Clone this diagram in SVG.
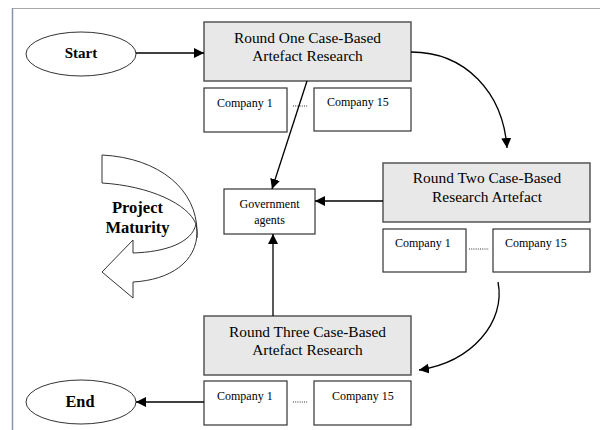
<svg xmlns="http://www.w3.org/2000/svg" width="600" height="430" viewBox="0 0 600 430">
<defs>
<marker id="ah" viewBox="0 0 10 10" refX="10" refY="5" markerWidth="10" markerHeight="10" markerUnits="userSpaceOnUse" orient="auto">
<path d="M0,0 L10,5 L0,10 Z" fill="#000"/>
</marker>
</defs>
<style>
text{font-family:'Liberation Serif','Times New Roman',serif;fill:#000}
.h{font-size:15.4px;text-anchor:middle}
.cn{font-size:12px}
.round{fill:#e8e8e8;stroke:#555;stroke-width:1.5}
.co{fill:#fff;stroke:#333;stroke-width:1.2}
.ell{fill:#fff;stroke:#333;stroke-width:1}
.c{fill:none;stroke:#000;stroke-width:1.3}
.dots{stroke:#333;stroke-width:1;stroke-dasharray:1,1.2}
</style>
<rect width="600" height="430" fill="#fff"/>
<line x1="12" y1="8.5" x2="600" y2="8.5" stroke="#aaa" stroke-width="1.2"/>
<line x1="12.5" y1="8" x2="12.5" y2="430" stroke="#8796a8" stroke-width="1.5"/>

<g id="start">
<ellipse class="ell" cx="81" cy="54" rx="55" ry="22"/>
<text x="81" y="58" font-size="15" font-weight="bold" text-anchor="middle">Start</text>
</g>
<g id="end">
<ellipse class="ell" cx="81" cy="402" rx="55" ry="22"/>
<text x="80" y="407" font-size="16.3" font-weight="bold" text-anchor="middle">End</text>
</g>

<g id="round1">
<rect class="round" x="204" y="22" width="207" height="59"/>
<text class="h" x="307.5" y="43">Round One Case-Based</text>
<text class="h" x="307.5" y="61">Artefact Research</text>
</g>
<g id="r1c1">
<rect class="co" x="204" y="88" width="83" height="44"/>
<text class="cn" x="217" y="107">Company 1</text>
</g>
<line class="dots" x1="293" y1="106" x2="308" y2="106"/>
<g id="r1c15">
<rect class="co" x="314" y="88" width="97" height="43"/>
<text class="cn" x="327" y="106">Company 15</text>
</g>

<g id="round2">
<rect class="round" x="383" y="163" width="207" height="59"/>
<text class="h" x="487" y="183">Round Two Case-Based</text>
<text class="h" x="487" y="202">Research Artefact</text>
</g>
<g id="r2c1">
<rect class="co" x="383" y="229" width="83" height="43"/>
<text class="cn" x="395" y="247">Company 1</text>
</g>
<line class="dots" x1="469" y1="249" x2="489" y2="249"/>
<g id="r2c15">
<rect class="co" x="493" y="229" width="97" height="43"/>
<text class="cn" x="505" y="247">Company 15</text>
</g>

<g id="gov">
<rect class="co" x="224" y="189" width="91" height="45"/>
<text x="269.5" y="208" font-size="12" text-anchor="middle">Government</text>
<text x="269.5" y="224" font-size="12" text-anchor="middle">agents</text>
</g>

<g id="round3">
<rect class="round" x="204" y="316" width="207" height="59"/>
<text class="h" x="307.5" y="337">Round Three Case-Based</text>
<text class="h" x="307.5" y="355">Artefact Research</text>
</g>
<g id="r3c1">
<rect class="co" x="204" y="381" width="83" height="44"/>
<text class="cn" x="217" y="400">Company 1</text>
</g>
<line class="dots" x1="293" y1="402" x2="308" y2="402"/>
<g id="r3c15">
<rect class="co" x="314" y="381" width="97" height="44"/>
<text class="cn" x="332" y="400">Company 15</text>
</g>

<g id="maturity">
<path d="M102,155 C160,158 197,190 197,232 C197,262 170,280 133,282 L133,298 L102,272 L133,240 L133,253 C165,252 192,243 196,224 C188,204 150,186 102,183 Z" fill="#fff" stroke="#333" stroke-width="1"/>
<path d="M196,224 C197,229 197.5,234 197,238" fill="none" stroke="#333" stroke-width="1"/>
<text x="137.5" y="213" font-size="16.5" font-weight="bold" text-anchor="middle">Project</text>
<text x="137.5" y="233" font-size="16.5" font-weight="bold" text-anchor="middle">Maturity</text>
</g>

<g id="connectors">
<line class="c" x1="136" y1="53" x2="204" y2="53" marker-end="url(#ah)"/>
<line class="c" x1="204" y1="402" x2="136" y2="402" marker-end="url(#ah)"/>
<path class="c" d="M411,52 C465,52 503,92 507,148" marker-end="url(#ah)"/>
<path class="c" d="M498,282 C506,322 472,362 419,370" marker-end="url(#ah)"/>
<line class="c" x1="307" y1="81" x2="272" y2="189" marker-end="url(#ah)"/>
<line class="c" x1="383" y1="201" x2="315" y2="201" marker-end="url(#ah)"/>
<line class="c" x1="273" y1="316" x2="273" y2="234" marker-end="url(#ah)"/>
</g>
</svg>
